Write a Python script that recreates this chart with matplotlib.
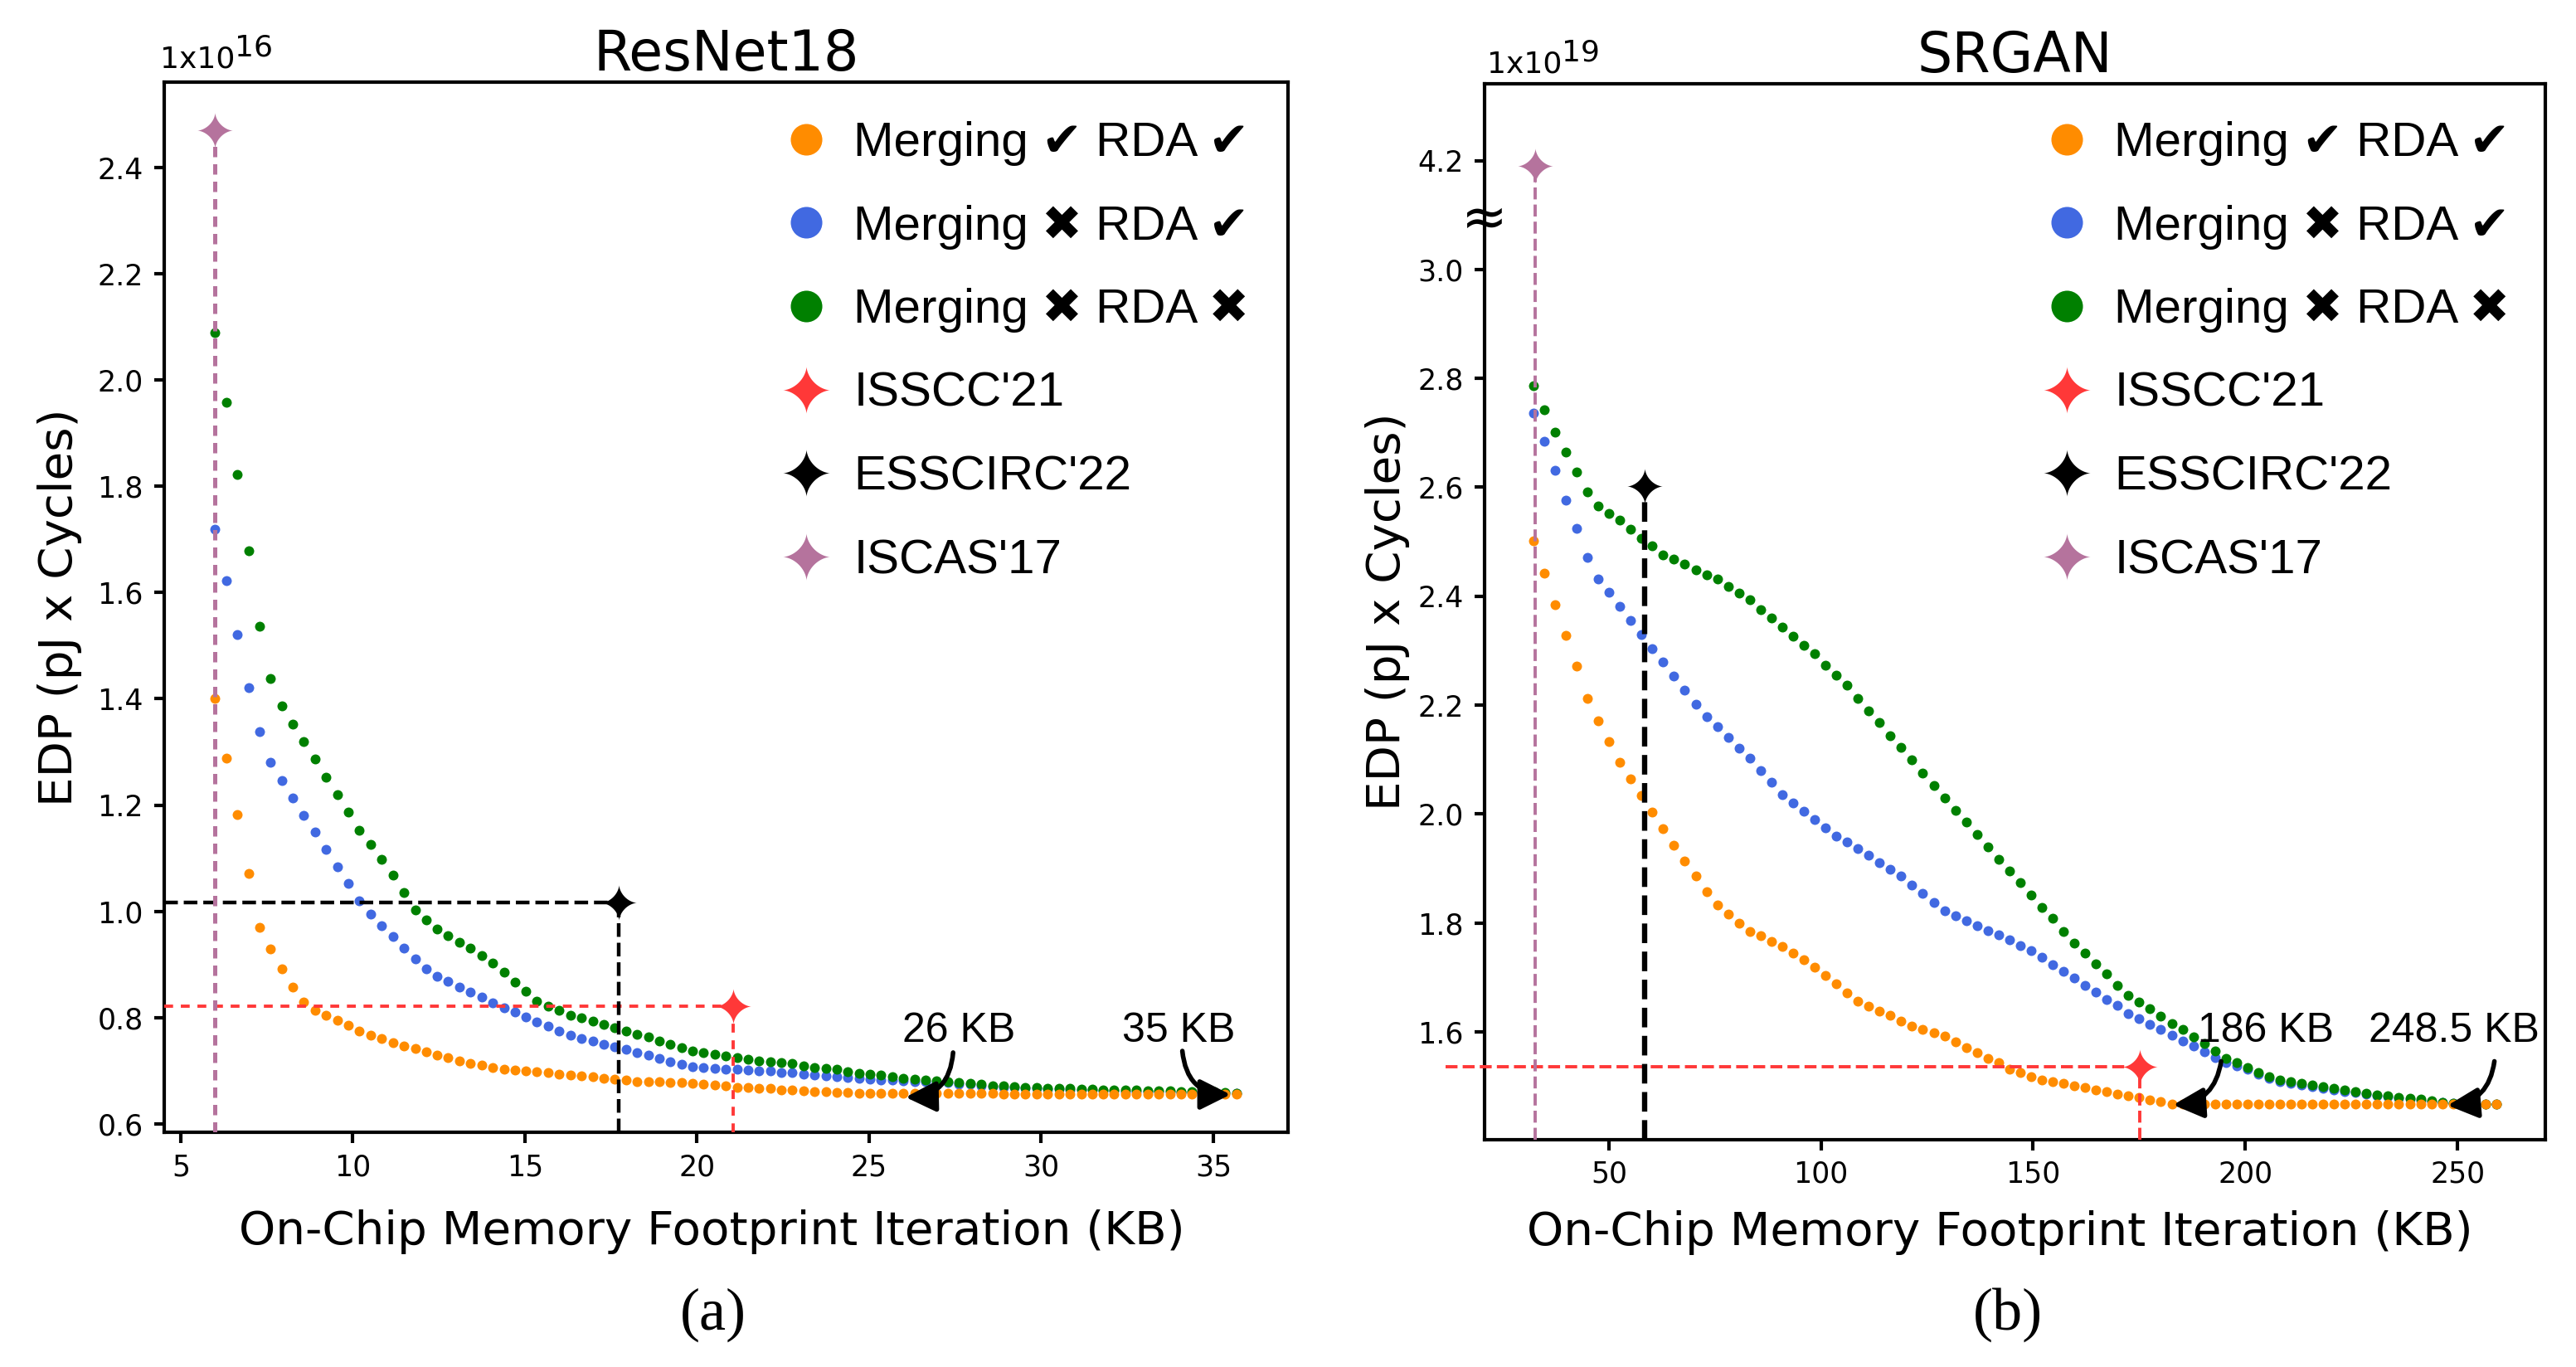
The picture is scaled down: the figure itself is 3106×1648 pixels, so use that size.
import numpy as np
import matplotlib
matplotlib.use('Agg')
import matplotlib.pyplot as plt
from matplotlib.lines import Line2D
from matplotlib.path import Path
import matplotlib.transforms as mtransforms

# ---------------- data: ResNet18 (EDP in units of 1e16) ----------------
left_x = [6.00, 6.32, 6.65, 6.97, 7.29, 7.61, 7.94, 8.26, 8.58, 8.90,
          9.23, 9.55, 9.87, 10.19, 10.52, 10.84, 11.16, 11.48, 11.81, 12.13,
          12.45, 12.77, 13.10, 13.42, 13.74, 14.06, 14.39, 14.71, 15.03, 15.35,
          15.68, 16.00, 16.32, 16.64, 16.97, 17.29, 17.61, 17.93, 18.26, 18.58,
          18.90, 19.22, 19.55, 19.87, 20.19, 20.51, 20.84, 21.16, 21.48, 21.80,
          22.13, 22.45, 22.77, 23.09, 23.42, 23.74, 24.06, 24.38, 24.71, 25.03,
          25.35, 25.67, 26.00, 26.32, 26.64, 26.96, 27.29, 27.61, 27.93, 28.25,
          28.58, 28.90, 29.22, 29.54, 29.87, 30.19, 30.51, 30.83, 31.16, 31.48,
          31.80, 32.12, 32.45, 32.77, 33.09, 33.41, 33.74, 34.06, 34.38, 34.70,
          35.03, 35.35, 35.67]
left_orange = [1.401, 1.289, 1.182, 1.071, 0.969, 0.929, 0.892, 0.857, 0.829, 0.813,
               0.804, 0.795, 0.785, 0.775, 0.766, 0.760, 0.753, 0.747, 0.741, 0.735,
               0.730, 0.724, 0.719, 0.714, 0.710, 0.706, 0.703, 0.701, 0.700, 0.698,
               0.696, 0.694, 0.692, 0.690, 0.688, 0.686, 0.684, 0.682, 0.680, 0.680,
               0.679, 0.678, 0.677, 0.676, 0.674, 0.673, 0.671, 0.669, 0.668, 0.667,
               0.666, 0.664, 0.663, 0.662, 0.660, 0.660, 0.659, 0.659, 0.658, 0.657,
               0.657, 0.657, 0.657, 0.657, 0.657, 0.657, 0.657, 0.657, 0.657, 0.657,
               0.657, 0.656, 0.656, 0.656, 0.656, 0.656, 0.656, 0.656, 0.656, 0.656,
               0.656, 0.656, 0.656, 0.656, 0.656, 0.656, 0.656, 0.656, 0.656, 0.656,
               0.656, 0.656, 0.656]
left_blue = [1.720, 1.623, 1.521, 1.421, 1.339, 1.281, 1.246, 1.213, 1.181, 1.150,
             1.117, 1.084, 1.052, 1.020, 0.995, 0.973, 0.952, 0.930, 0.910, 0.892,
             0.878, 0.868, 0.858, 0.848, 0.838, 0.828, 0.819, 0.810, 0.801, 0.792,
             0.784, 0.774, 0.766, 0.761, 0.756, 0.750, 0.745, 0.740, 0.734, 0.729,
             0.723, 0.717, 0.712, 0.708, 0.706, 0.704, 0.703, 0.702, 0.701, 0.700,
             0.699, 0.697, 0.696, 0.694, 0.692, 0.690, 0.689, 0.687, 0.685, 0.684,
             0.683, 0.682, 0.681, 0.680, 0.679, 0.678, 0.677, 0.675, 0.674, 0.672,
             0.670, 0.669, 0.668, 0.667, 0.666, 0.665, 0.665, 0.664, 0.663, 0.663,
             0.662, 0.662, 0.661, 0.661, 0.660, 0.660, 0.660, 0.659, 0.659, 0.658,
             0.658, 0.657, 0.657]
left_green = [2.090, 1.958, 1.823, 1.678, 1.537, 1.438, 1.386, 1.352, 1.319, 1.287,
              1.253, 1.220, 1.187, 1.153, 1.126, 1.097, 1.068, 1.035, 1.003, 0.983,
              0.966, 0.954, 0.942, 0.930, 0.917, 0.903, 0.885, 0.867, 0.849, 0.831,
              0.821, 0.813, 0.804, 0.799, 0.793, 0.787, 0.781, 0.775, 0.769, 0.763,
              0.756, 0.750, 0.744, 0.737, 0.734, 0.731, 0.728, 0.725, 0.722, 0.719,
              0.717, 0.715, 0.713, 0.709, 0.706, 0.704, 0.702, 0.698, 0.695, 0.693,
              0.691, 0.688, 0.686, 0.684, 0.682, 0.681, 0.679, 0.677, 0.676, 0.674,
              0.672, 0.671, 0.670, 0.669, 0.668, 0.667, 0.667, 0.666, 0.665, 0.665,
              0.664, 0.664, 0.663, 0.663, 0.662, 0.662, 0.662, 0.661, 0.661, 0.660,
              0.660, 0.659, 0.658]
left_isscc = (21.04, 0.822)
left_esscirc = (17.73, 1.016)
left_iscas = (6.00, 2.47)

# ---------------- data: SRGAN (EDP in units of 1e19) ----------------
right_x = [32.20, 34.75, 37.30, 39.85, 42.40, 44.95, 47.50, 50.05, 52.60, 55.15,
           57.70, 60.25, 62.80, 65.35, 67.90, 70.45, 73.00, 75.55, 78.10, 80.65,
           83.20, 85.75, 88.30, 90.85, 93.40, 95.95, 98.50, 101.05, 103.60, 106.15,
           108.70, 111.25, 113.80, 116.35, 118.90, 121.45, 124.00, 126.55, 129.10, 131.65,
           134.20, 136.75, 139.30, 141.85, 144.40, 146.95, 149.50, 152.05, 154.60, 157.15,
           159.70, 162.25, 164.80, 167.35, 169.90, 172.45, 175.00, 177.55, 180.10, 182.65,
           185.20, 187.75, 190.30, 192.85, 195.40, 197.95, 200.50, 203.05, 205.60, 208.15,
           210.70, 213.25, 215.80, 218.35, 220.90, 223.45, 226.00, 228.55, 231.10, 233.65,
           236.20, 238.75, 241.30, 243.85, 246.40, 248.95, 251.50, 254.05, 256.60, 259.15]
right_orange = [2.501, 2.442, 2.384, 2.328, 2.271, 2.212, 2.171, 2.133, 2.095, 2.064,
                2.034, 2.003, 1.973, 1.942, 1.914, 1.886, 1.858, 1.833, 1.816, 1.800,
                1.785, 1.776, 1.766, 1.757, 1.744, 1.733, 1.719, 1.703, 1.688, 1.672,
                1.657, 1.647, 1.638, 1.630, 1.620, 1.611, 1.605, 1.599, 1.592, 1.581,
                1.571, 1.562, 1.551, 1.543, 1.532, 1.525, 1.518, 1.512, 1.509, 1.505,
                1.501, 1.498, 1.494, 1.490, 1.486, 1.483, 1.479, 1.475, 1.472, 1.468,
                1.467, 1.467, 1.467, 1.467, 1.467, 1.467, 1.467, 1.467, 1.467, 1.467,
                1.467, 1.467, 1.467, 1.467, 1.467, 1.467, 1.467, 1.467, 1.467, 1.467,
                1.467, 1.467, 1.467, 1.467, 1.467, 1.467, 1.467, 1.467, 1.467, 1.467]
right_blue = [2.737, 2.684, 2.631, 2.577, 2.525, 2.472, 2.432, 2.407, 2.381, 2.355,
              2.330, 2.304, 2.279, 2.253, 2.227, 2.202, 2.179, 2.160, 2.140, 2.121,
              2.103, 2.080, 2.059, 2.036, 2.021, 2.005, 1.990, 1.974, 1.959, 1.949,
              1.936, 1.924, 1.911, 1.899, 1.886, 1.870, 1.855, 1.838, 1.823, 1.814,
              1.804, 1.795, 1.786, 1.778, 1.769, 1.759, 1.750, 1.737, 1.724, 1.711,
              1.699, 1.686, 1.673, 1.660, 1.648, 1.634, 1.624, 1.614, 1.605, 1.594,
              1.584, 1.574, 1.564, 1.553, 1.543, 1.538, 1.532, 1.522, 1.515, 1.509,
              1.506, 1.503, 1.500, 1.497, 1.494, 1.491, 1.489, 1.486, 1.483, 1.481,
              1.478, 1.476, 1.474, 1.472, 1.470, 1.469, 1.468, 1.467, 1.467, 1.467]
right_green = [2.787, 2.743, 2.702, 2.664, 2.628, 2.591, 2.565, 2.552, 2.540, 2.523,
               2.507, 2.493, 2.476, 2.468, 2.459, 2.449, 2.440, 2.431, 2.418, 2.406,
               2.393, 2.376, 2.360, 2.343, 2.327, 2.310, 2.294, 2.274, 2.255, 2.237,
               2.213, 2.190, 2.168, 2.144, 2.122, 2.100, 2.076, 2.053, 2.030, 2.007,
               1.985, 1.962, 1.939, 1.917, 1.895, 1.874, 1.851, 1.829, 1.808, 1.785,
               1.763, 1.744, 1.725, 1.706, 1.686, 1.667, 1.655, 1.642, 1.629, 1.616,
               1.604, 1.591, 1.579, 1.565, 1.552, 1.543, 1.534, 1.525, 1.518, 1.511,
               1.509, 1.506, 1.503, 1.500, 1.496, 1.493, 1.491, 1.487, 1.485, 1.482,
               1.479, 1.478, 1.476, 1.473, 1.471, 1.469, 1.468, 1.468, 1.467, 1.467]
right_isscc = (175.1, 1.536)
right_esscirc = (58.4, 2.603)
right_iscas = (32.6, 4.19)

left_yticks = [0.6, 0.8, 1.0, 1.2, 1.4, 1.6, 1.8, 2.0, 2.2, 2.4]
left_xticks = [5, 10, 15, 20, 25, 30, 35]
right_yticks = [1.6, 1.8, 2.0, 2.2, 2.4, 2.6, 2.8, 3.0, 4.2]
right_xticks = [50, 100, 150, 200, 250]

legend_labels = ['Merging \u2714 RDA \u2714', 'Merging \u2716 RDA \u2714',
                 'Merging \u2716 RDA \u2716', "ISSCC'21", "ESSCIRC'22", "ISCAS'17"]

C_OR = '#ff8c00'
C_BL = '#4169e1'
C_GR = '#008000'
C_RED = '#ff3838'
C_BLK = '#000000'
C_PUR = '#b5739d'

# broken right axis: values above the break are shifted down by 1.0
def brk(v):
    return v - 1.0 if v > 3.1 else v

# four-pointed star marker
t = np.linspace(0, 2 * np.pi, 241)
ex = 2 / 0.62
sx = np.sign(np.cos(t)) * np.abs(np.cos(t)) ** ex
sy = np.sign(np.sin(t)) * np.abs(np.sin(t)) ** ex
STAR = Path(np.column_stack([sx, sy]), closed=True)

plt.rcParams['font.family'] = ['DejaVu Sans']
LEG_FONT = ['Liberation Sans', 'DejaVu Sans']

W, H = 3106, 1648
fig = plt.figure(figsize=(W / 200, H / 200), dpi=200)
ax1 = fig.add_axes([198 / W, (H - 1365) / H, (1553 - 198) / W, (1365 - 99) / H])
ax2 = fig.add_axes([1790 / W, (H - 1374) / H, (3069 - 1790) / W, (1374 - 101) / H])

DOT = 4.3
STAR_MS = 15.5


def style(ax):
    for s in ax.spines.values():
        s.set_linewidth(1.5)
    ax.tick_params(axis='both', which='major', labelsize=12.5, length=4.5,
                   width=1.5, pad=4.5, direction='out', top=False, right=False)


def series(ax, x, o, b, g):
    ax.plot(x, b, 'o', color=C_BL, ms=DOT, mew=0, ls='', zorder=2.0)
    ax.plot(x, g, 'o', color=C_GR, ms=DOT, mew=0, ls='', zorder=2.1)
    ax.plot(x, o, 'o', color=C_OR, ms=DOT, mew=0, ls='', zorder=2.2)


def star(ax, p, c, y=None):
    ax.plot([p[0]], [p[1] if y is None else y], marker=STAR, ms=STAR_MS,
            color=c, mew=0, ls='', zorder=6, clip_on=False)


# ---------------- left panel ----------------
l_xlim = (4.52, 37.17)
l_ylim = (0.584, 2.561)
style(ax1)
series(ax1, left_x, left_orange, left_blue, left_green)
ax1.plot([l_xlim[0], left_isscc[0]], [left_isscc[1]] * 2, color=C_RED, lw=1.4,
         dashes=(2.75, 2.4), zorder=4)
ax1.plot([left_isscc[0]] * 2, [l_ylim[0], left_isscc[1]], color=C_RED, lw=1.4,
         dashes=(2.75, 2.4), zorder=4)
ax1.plot([l_xlim[0], left_esscirc[0]], [left_esscirc[1]] * 2, color=C_BLK, lw=1.6,
         ls='--', zorder=4)
ax1.plot([left_esscirc[0]] * 2, [l_ylim[0], left_esscirc[1]], color=C_BLK, lw=1.6,
         ls='--', zorder=4)
ax1.plot([left_iscas[0]] * 2, [l_ylim[0], left_iscas[1]], color=C_PUR, lw=1.8,
         dashes=(2.5, 1.7), zorder=4)
star(ax1, left_isscc, C_RED)
star(ax1, left_esscirc, C_BLK)
star(ax1, left_iscas, C_PUR)
ax1.set_xlim(*l_xlim)
ax1.set_ylim(*l_ylim)
ax1.set_xticks(left_xticks)
ax1.set_xticklabels([str(v) for v in left_xticks])
ax1.set_yticks(left_yticks)
ax1.set_yticklabels(['%.1f' % v for v in left_yticks])
ax1.set_title('ResNet18', fontsize=24, pad=3)
ax1.set_xlabel('On-Chip Memory Footprint Iteration (KB)', fontsize=20.3)
ax1.set_ylabel('EDP (pJ x Cycles)', fontsize=20.3)
ax1.xaxis.set_label_coords(0.487, -0.0736)
ax1.yaxis.set_label_coords(-0.073, 0.5)

ann_kw = dict(fontsize=18, family=LEG_FONT, ha='center', va='baseline')
arr_kw = dict(arrowstyle='-|>', mutation_scale=28, lw=2.0, color='black',
              shrinkA=0, shrinkB=0)
ax1.text(27.6, 0.7535, '26 KB', **ann_kw)
ax1.text(33.99, 0.7535, '35 KB', **ann_kw)
ax1.annotate('', xy=(26.06, 0.650), xytext=(27.44, 0.734),
             arrowprops=dict(connectionstyle='arc3,rad=-0.45', **arr_kw), zorder=7)
ax1.annotate('', xy=(35.5, 0.655), xytext=(34.1, 0.737),
             arrowprops=dict(connectionstyle='arc3,rad=0.45', **arr_kw), zorder=7)

# ---------------- right panel ----------------
r_xlim = (20.7, 270.7)
r_ylim = (1.402, 3.341)
style(ax2)
series(ax2, right_x, right_orange, right_blue, right_green)
ax2.plot([11.5, right_isscc[0]], [right_isscc[1]] * 2, color=C_RED, lw=1.4,
         ls='--', zorder=4, clip_on=False)
ax2.plot([right_isscc[0]] * 2, [r_ylim[0], right_isscc[1]], color=C_RED, lw=1.4,
         ls='--', zorder=4)
ax2.plot([right_esscirc[0]] * 2, [r_ylim[0], right_esscirc[1]], color=C_BLK, lw=2.3,
         ls='--', zorder=4)
ax2.plot([right_iscas[0]] * 2, [r_ylim[0], brk(right_iscas[1])], color=C_PUR, lw=1.4,
         ls='--', zorder=4)
star(ax2, right_isscc, C_RED)
star(ax2, right_esscirc, C_BLK)
star(ax2, right_iscas, C_PUR, y=brk(right_iscas[1]))
ax2.set_xlim(*r_xlim)
ax2.set_ylim(*r_ylim)
ax2.set_xticks(right_xticks)
ax2.set_xticklabels([str(v) for v in right_xticks])
ax2.set_yticks([brk(v) for v in right_yticks])
ax2.set_yticklabels(['%.1f' % v for v in right_yticks])
ax2.set_title('SRGAN', fontsize=24, pad=3)
ax2.set_xlabel('On-Chip Memory Footprint Iteration (KB)', fontsize=20.3)
ax2.set_ylabel('EDP (pJ x Cycles)', fontsize=20.3)
ax2.xaxis.set_label_coords(0.486, -0.0666)
ax2.yaxis.set_label_coords(-0.0705, 0.5)
ax2.text(0.0, 3.092, '\u2248',
         transform=mtransforms.blended_transform_factory(ax2.transAxes, ax2.transData),
         ha='center', va='center', fontsize=24, clip_on=False, zorder=8)

ax2.text(204.9, 1.5817, '186 KB', **ann_kw)
ax2.text(249.1, 1.5817, '248.5 KB', **ann_kw)
ax2.annotate('', xy=(183.0, 1.466), xytext=(194.3, 1.546),
             arrowprops=dict(connectionstyle='arc3,rad=-0.4', **arr_kw), zorder=7)
ax2.annotate('', xy=(247.7, 1.465), xytext=(258.7, 1.546),
             arrowprops=dict(connectionstyle='arc3,rad=-0.4', **arr_kw), zorder=7)

# exponent labels
for ax, ex_txt, xpx, ypx in [(ax1, '16', 193, 82), (ax2, '19', 1793, 88)]:
    t1 = fig.text(xpx / W, 1 - ypx / H, '1x10', fontsize=13, ha='left', va='baseline')
    ax.annotate(ex_txt, xy=(1, 0), xycoords=t1, xytext=(0, 5.4),
                textcoords='offset points', fontsize=13, ha='left', va='bottom',
                annotation_clip=False)

# legends
handles = [
    Line2D([], [], marker='o', ls='', color=C_OR, ms=13.7, mew=0),
    Line2D([], [], marker='o', ls='', color=C_BL, ms=13.7, mew=0),
    Line2D([], [], marker='o', ls='', color=C_GR, ms=13.7, mew=0),
    Line2D([], [], marker=STAR, ls='', color=C_RED, ms=20.5, mew=0),
    Line2D([], [], marker=STAR, ls='', color=C_BLK, ms=20.5, mew=0),
    Line2D([], [], marker=STAR, ls='', color=C_PUR, ms=20.5, mew=0),
]
for ax, hx in [(ax1, 943), (ax2, 2463)]:
    ax.legend(handles, legend_labels, loc='upper left',
              bbox_to_anchor=(hx / W, 1 - 146 / H), bbox_transform=fig.transFigure,
              frameon=False, prop={'family': LEG_FONT, 'size': 21},
              handlelength=1.0, handletextpad=0.48, labelspacing=0.80,
              borderpad=0, borderaxespad=0)

fig.text(860 / W, 1 - 1585 / H, '(a)', ha='center', va='center',
         family=['Liberation Serif', 'DejaVu Serif'], fontsize=26)
fig.text(2421 / W, 1 - 1585 / H, '(b)', ha='center', va='center',
         family=['Liberation Serif', 'DejaVu Serif'], fontsize=26)

fig.savefig('out.png', dpi=200)
